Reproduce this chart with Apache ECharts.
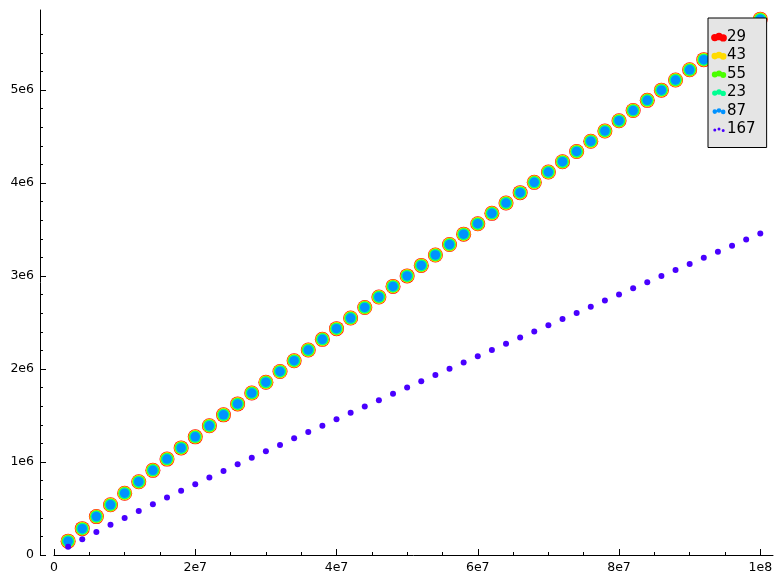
<!DOCTYPE html>
<html>
<head>
<meta charset="utf-8">
<title>prime counts</title>
<script src="https://cdn.jsdelivr.net/npm/echarts@6.0.0/dist/echarts.min.js"></script>
<style>
html, body { margin: 0; padding: 0; background: #fff; }
#main { width: 783px; height: 585px; }
</style>
</head>
<body>
<div id="main"></div>
<script>
// x positions of the samples
var xValues = [2e6, 4e6, 6e6, 8e6, 1e7, 1.2e7, 1.4e7, 1.6e7, 1.8e7, 2e7,
	2.2e7, 2.4e7, 2.6e7, 2.8e7, 3e7, 3.2e7, 3.4e7, 3.6e7, 3.8e7, 4e7,
	4.2e7, 4.4e7, 4.6e7, 4.8e7, 5e7, 5.2e7, 5.4e7, 5.6e7, 5.8e7, 6e7,
	6.2e7, 6.4e7, 6.6e7, 6.8e7, 7e7, 7.2e7, 7.4e7, 7.6e7, 7.8e7, 8e7,
	8.2e7, 8.4e7, 8.6e7, 8.8e7, 9e7, 9.2e7, 9.4e7, 9.6e7, 9.8e7, 1e8];

// the five overlapping series (29, 43, 55, 23, 87) sit on the same values
var upperCounts = [148933, 283146, 412849, 539777, 664579, 788060, 910077, 1031130, 1151367, 1270607,
	1389261, 1507122, 1624527, 1741430, 1857859, 1973815, 2089328, 2204262, 2318966, 2433654,
	2547651, 2661449, 2774706, 2888052, 3001134, 3113661, 3225946, 3337999, 3450011, 3562115,
	3673622, 3784914, 3896043, 4007011, 4118064, 4228557, 4339023, 4449336, 4559496, 4669382,
	4779151, 4888686, 4998106, 5107262, 5216954, 5326044, 5434971, 5543911, 5652615, 5761455];

// series 167
var lowerCounts = [89000, 170000, 248000, 324000, 399000, 473000, 546000, 619000, 691000, 762000,
	834000, 904000, 975000, 1045000, 1115000, 1184000, 1254000, 1323000, 1391000, 1460000,
	1529000, 1597000, 1665000, 1733000, 1801000, 1868000, 1936000, 2003000, 2070000, 2137000,
	2204000, 2271000, 2338000, 2404000, 2471000, 2537000, 2603000, 2670000, 2736000, 2802000,
	2867000, 2933000, 2999000, 3064000, 3130000, 3196000, 3261000, 3326000, 3392000, 3457000];

var seriesNames = ['29', '43', '55', '23', '87', '167'];
var seriesColors = ['#ff0000', '#ffdb00', '#49ff00', '#00ff92', '#0092ff', '#4900ff'];
var markerSizes = [15, 14, 12.5, 11.5, 9.5, 6];
var legendDotRadius = [3.7, 3.3, 3.0, 2.7, 2.3, 1.5];

var xTicks = [0, 2e7, 4e7, 6e7, 8e7, 1e8];
var xTickLabels = ['0', '2e7', '4e7', '6e7', '8e7', '1e8'];
var xMinorTicks = [5e6, 1e7, 1.5e7, 2.5e7, 3e7, 3.5e7, 4.5e7, 5e7, 5.5e7, 6.5e7, 7e7, 7.5e7, 8.5e7, 9e7, 9.5e7];
var yTicks = [0, 1e6, 2e6, 3e6, 4e6, 5e6];
var yTickLabels = ['0', '1e6', '2e6', '3e6', '4e6', '5e6'];
var yMinorTicks = [2e5, 4e5, 6e5, 8e5, 1.2e6, 1.4e6, 1.6e6, 1.8e6, 2.2e6, 2.4e6, 2.6e6, 2.8e6,
	3.2e6, 3.4e6, 3.6e6, 3.8e6, 4.2e6, 4.4e6, 4.6e6, 4.8e6, 5.2e6, 5.4e6, 5.6e6];

var X_MAX = 1.018e8, Y_MAX = 5.86e6;
var FONT = 'DejaVu Sans';

// three little dots, like a matplotlib scatter legend handle
function dotsIcon(r) {
	var cx = [3.8, 8, 12.2], cy = [5.6, 4.5, 5.9];
	var p = 'path://M0 0 M16 10';
	for (var i = 0; i < 3; i++) {
		p += ' M' + (cx[i] - r) + ' ' + cy[i] + ' a' + r + ' ' + r + ' 0 1 0 ' + (2 * r) + ' 0 a' + r + ' ' + r + ' 0 1 0 ' + (-2 * r) + ' 0 Z';
	}
	return p;
}

function pairs(ys) {
	return xValues.map(function (x, i) { return [x, ys[i]]; });
}

var myChart = echarts.init(document.getElementById('main'), null, { renderer: 'canvas' });

var series = seriesNames.map(function (name, i) {
	return {
		name: name,
		type: 'scatter',
		xAxisIndex: 0,
		yAxisIndex: 0,
		symbol: 'circle',
		symbolSize: markerSizes[i],
		itemStyle: { color: seriesColors[i], opacity: 1 },
		emphasis: { disabled: true },
		data: pairs(i < 5 ? upperCounts : lowerCounts)
	};
});

var option = {
	animation: false,
	backgroundColor: '#ffffff',
	grid: {
		left: 54,
		right: 10,
		top: 10,
		bottom: 30,
		containLabel: false,
		outerBoundsMode: 'none'
	},
	legend: {
		orient: 'vertical',
		left: 708,
		top: 18,
		padding: [11.5, 11, 10.5, 3],
		itemGap: 3.5,
		itemWidth: 16,
		itemHeight: 10,
		selectedMode: false,
		backgroundColor: '#e5e5e5',
		borderColor: '#000000',
		borderWidth: 1,
		textStyle: { color: '#000000', fontSize: 15, fontFamily: FONT, padding: [0, 0, 0, -5] },
		data: seriesNames.map(function (name, i) {
			return { name: name, icon: dotsIcon(legendDotRadius[i]) };
		})
	},
	xAxis: [{
		type: 'value',
		min: 0,
		max: X_MAX,
		splitLine: { show: false },
		axisLine: { show: true, onZero: false, lineStyle: { color: '#000', width: 1 } },
		axisTick: { show: true, inside: true, length: 6, customValues: xTicks, lineStyle: { color: '#000' } },
		axisLabel: {
			show: true,
			customValues: xTicks,
			margin: 6,
			color: '#000',
			fontSize: 12.5,
			fontFamily: FONT,
			formatter: function (v) {
				var k = xTicks.indexOf(v);
				return k < 0 ? '' : xTickLabels[k];
			}
		}
	}, {
		type: 'value',
		min: 0,
		max: X_MAX,
		position: 'bottom',
		splitLine: { show: false },
		axisLine: { show: false, onZero: false },
		axisTick: { show: true, inside: true, length: 3, customValues: xMinorTicks, lineStyle: { color: '#000' } },
		axisLabel: { show: false }
	}],
	yAxis: [{
		type: 'value',
		min: 0,
		max: Y_MAX,
		offset: 14,
		splitLine: { show: false },
		axisLine: { show: true, onZero: false, lineStyle: { color: '#000', width: 1 } },
		axisTick: { show: true, inside: true, length: 6, customValues: yTicks, lineStyle: { color: '#000' } },
		axisLabel: {
			show: true,
			customValues: yTicks,
			margin: 6,
			color: '#000',
			fontSize: 12.5,
			fontFamily: FONT,
			formatter: function (v) {
				var k = yTicks.indexOf(v);
				return k < 0 ? '' : yTickLabels[k];
			}
		}
	}, {
		type: 'value',
		min: 0,
		max: Y_MAX,
		position: 'left',
		offset: 14,
		splitLine: { show: false },
		axisLine: { show: false, onZero: false },
		axisTick: { show: true, inside: true, length: 3, customValues: yMinorTicks, lineStyle: { color: '#000' } },
		axisLabel: { show: false }
	}],
	series: series
};

myChart.setOption(option);
</script>
</body>
</html>
